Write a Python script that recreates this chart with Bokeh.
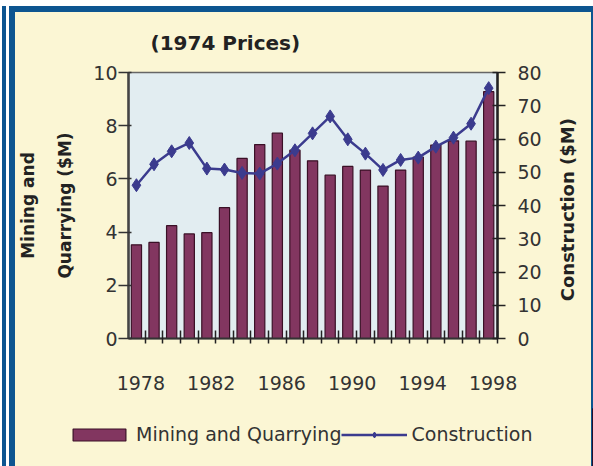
import math
from bokeh.plotting import figure
from bokeh.layouts import column
from bokeh.models import (Range1d, LinearAxis, FixedTicker, CustomJSTickFormatter,
                          Title, Legend, LegendItem)
from bokeh.embed import file_html
from bokeh.resources import INLINE

# ---------------- data ----------------
years = list(range(1978, 1999))
mining = [3.52, 3.61, 4.24, 3.93, 3.98, 4.92, 6.77, 7.29, 7.72, 7.08, 6.68,
          6.14, 6.47, 6.33, 5.73, 6.33, 6.82, 7.27, 7.43, 7.42, 9.28]
construction = [46.1, 52.4, 56.3, 58.8, 51.1, 50.8, 49.8, 49.6, 52.6, 56.6, 61.7,
                66.8, 59.9, 55.6, 50.7, 53.7, 54.4, 57.7, 60.4, 64.6, 75.3]
label_years = [1978, 1982, 1986, 1990, 1994, 1998]
left_ticks = [0, 2, 4, 6, 8, 10]
right_ticks = [0, 10, 20, 30, 40, 50, 60, 70, 80]
series_names = ["Mining and Quarrying", "Construction"]
right_title = "Construction ($M)"

# ---------------- layout (pixels) ----------------
W, H = 593, 466
HM = 408             # main chart height
HL = H - HM          # legend strip height
FL, FR, FT, FB = 128, 497, 72, 338
X0, X1 = 1977.55, 1998.5
LABEL_SHIFT = 0.25   # year labels sit a little right of the bar centres
RIGHT_TITLE_START = 1.4   # (left-axis units) where the rotated right title begins

BAR_FILL = "#823660"
BAR_LINE = "#3a1026"
LINE_COL = "#3b3b8e"
PANEL = "#fbf6d4"
PLOTBG = "#e2edf1"
BLUE = "#0d5590"
FONT = "DejaVu Sans"
TXT = "#333333"

p = figure(width=W, height=HM, x_range=Range1d(X0, X1), y_range=Range1d(0, 10),
           output_backend="svg", toolbar_location=None,
           min_border_left=FL, min_border_right=W - FR,
           min_border_top=FT, min_border_bottom=HM - FB,
           background_fill_color=PLOTBG, border_fill_alpha=0,
           outline_line_color="#666666", outline_line_width=1.5)
p.frame_align = False
p.xgrid.visible = False
p.ygrid.visible = False

# title
p.title.text = "(1974 Prices)"
p.title.align = "left"
p.title.offset = 22
p.title.standoff = 36
p.title.text_font = FONT
p.title.text_font_style = "bold"
p.title.text_font_size = "20px"
p.title.text_color = "#222222"

# bottom axis
xa = p.xaxis[0]
xa.ticker = FixedTicker(ticks=[y + LABEL_SHIFT for y in label_years],
                        minor_ticks=[y + 0.5 for y in years])
xa.formatter = CustomJSTickFormatter(code="return Math.round(tick).toString();")
xa.major_tick_in = 0
xa.major_tick_out = 0
xa.minor_tick_in = 8
xa.minor_tick_out = 5
xa.minor_tick_line_color = "#222222"
xa.minor_tick_line_width = 1.5
xa.axis_line_color = "#333333"
xa.axis_line_width = 2
xa.major_label_standoff = 32
xa.major_label_text_font = FONT
xa.major_label_text_font_size = "19px"
xa.major_label_text_color = TXT

# left axis
ya = p.yaxis[0]
ya.ticker = FixedTicker(ticks=left_ticks)
ya.major_tick_in = 3
ya.major_tick_out = 10
ya.minor_tick_in = 0
ya.minor_tick_out = 0
ya.major_tick_line_color = "#333333"
ya.major_tick_line_width = 1.5
ya.axis_line_color = "#444444"
ya.axis_line_width = 2.5
ya.major_label_standoff = 1
ya.major_label_text_font = FONT
ya.major_label_text_font_size = "19px"
ya.major_label_text_color = TXT

# right axis
p.extra_y_ranges = {"c": Range1d(0, 80)}
ra = LinearAxis(y_range_name="c", ticker=FixedTicker(ticks=right_ticks))
ra.major_tick_in = 5
ra.major_tick_out = 8
ra.minor_tick_in = 0
ra.minor_tick_out = 0
ra.major_tick_line_color = "#222222"
ra.major_tick_line_width = 1.5
ra.axis_line_color = "#222222"
ra.axis_line_width = 2.5
ra.major_label_standoff = 12
ra.major_label_text_font = FONT
ra.major_label_text_font_size = "19px"
ra.major_label_text_color = TXT
p.add_layout(ra, "right")

# right-hand title, rotated to read bottom-to-top like the reference
rt = LinearAxis(ticker=FixedTicker(ticks=[RIGHT_TITLE_START]),
                formatter=CustomJSTickFormatter(args=dict(t=right_title), code="return t;"))
rt.major_label_orientation = math.pi / 2
rt.major_tick_in = 0
rt.major_tick_out = 0
rt.minor_tick_in = 0
rt.minor_tick_out = 0
rt.axis_line_color = None
rt.major_label_standoff = 23
rt.major_label_text_font = FONT
rt.major_label_text_font_style = "bold"
rt.major_label_text_font_size = "18px"
rt.major_label_text_color = "#222222"
p.add_layout(rt, "right")

# left axis titles (two lines, stacked outward)
p.add_layout(Title(text="Quarrying ($M)", align="center", standoff=31,
                   text_font=FONT, text_font_style="bold", text_font_size="17px",
                   text_color="#222222"), "left")
p.add_layout(Title(text="Mining and", align="center", standoff=0,
                   text_font=FONT, text_font_style="bold", text_font_size="17px",
                   text_color="#222222"), "left")

# glyphs
p.vbar(x=years, top=mining, width=0.58, fill_color=BAR_FILL,
       line_color=BAR_LINE, line_width=1.2)
p.line(years, construction, y_range_name="c", line_color=LINE_COL, line_width=2.5)
p.scatter(years, construction, y_range_name="c", marker="diamond", size=13,
          fill_color=LINE_COL, line_color=LINE_COL)

# ---------------- legend strip ----------------
# same series drawn again (outside this strip's visible range) only to feed the legend
lf = figure(width=W, height=HL, x_range=Range1d(0, 1), y_range=Range1d(0, 1),
            output_backend="svg", toolbar_location=None,
            x_axis_type=None, y_axis_type=None, min_border=0,
            background_fill_alpha=0, border_fill_alpha=0, outline_line_color=None)
lf.frame_align = False
lf.xgrid.visible = False
lf.ygrid.visible = False
lb = lf.vbar(x=years, top=mining, width=0.58, fill_color=BAR_FILL,
             line_color=BAR_LINE, line_width=1.2)
ll = lf.line(years, construction, line_color=LINE_COL, line_width=2.5)
lp = lf.scatter(years, construction, marker="diamond", size=12,
                fill_color=LINE_COL, line_color=LINE_COL)
legend = Legend(items=[LegendItem(label=series_names[0], renderers=[lb]),
                       LegendItem(label=series_names[1], renderers=[ll, lp])],
                location=(66, 21), orientation="horizontal",
                glyph_width=66, glyph_height=15, label_standoff=4, spacing=0,
                padding=0, margin=0, label_height=12,
                border_line_alpha=0, background_fill_alpha=0,
                label_text_font=FONT, label_text_font_size="19px",
                label_text_color=TXT)
lf.add_layout(legend)

layout = column(p, lf, spacing=0)
layout.styles = {
    "background-color": PANEL,
    "box-shadow": (f"inset 0 6px 0 0 white, "
                   f"inset 2px 0 0 0 white, inset 6px 0 0 0 {BLUE}, "
                   f"inset 9px 0 0 0 white, inset 15px 0 0 0 {BLUE}, "
                   f"inset 0 12px 0 0 {BLUE}, inset -2px 0 0 0 {BLUE}"),
}

open("out.html", "w").write(file_html(layout, INLINE))
